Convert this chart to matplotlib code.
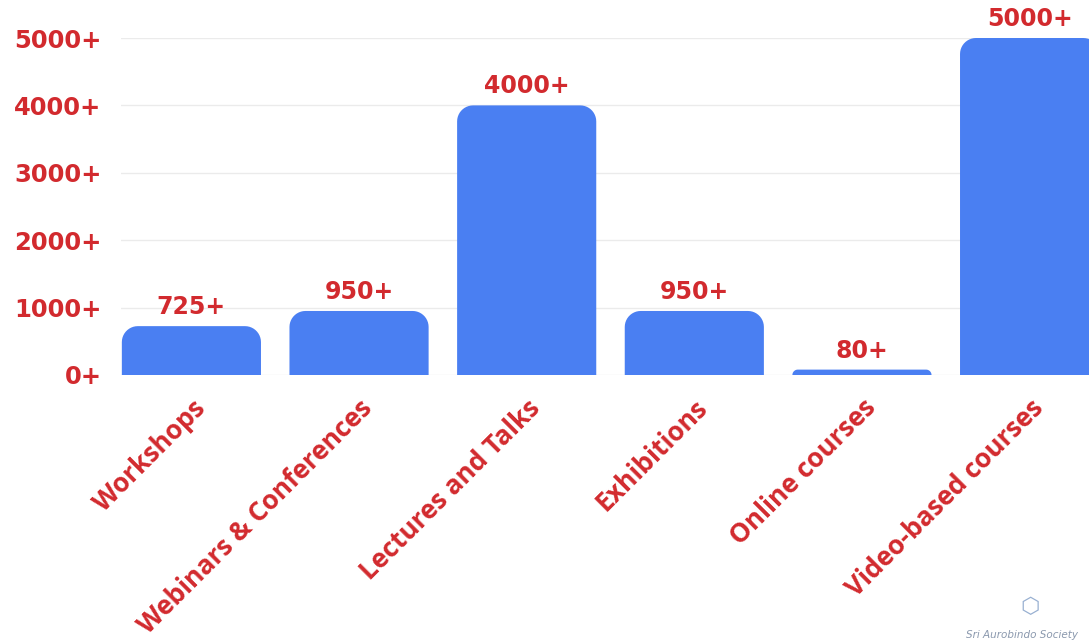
import numpy as np
import matplotlib.pyplot as plt
from matplotlib.patches import Polygon

categories = ["Workshops", "Webinars & Conferences", "Lectures and Talks",
              "Exhibitions", "Online courses", "Video-based courses"]
values = [725, 950, 4000, 950, 80, 5000]
value_labels = ["725+", "950+", "4000+", "950+", "80+", "5000+"]
yticks = [0, 1000, 2000, 3000, 4000, 5000]
ytick_labels = ["0+", "1000+", "2000+", "3000+", "4000+", "5000+"]

RED = "#d22a2e"
BLUE = "#4a7ff2"

W, H = 1089, 644
fig = plt.figure(figsize=(W / 100, H / 100), dpi=100)
# axes runs a little past the right edge, like the source image (last bar is cut)
x0, x1 = 121, 1100
y0, y1 = 375, 38
ax = fig.add_axes([x0 / W, 1 - y0 / H, (x1 - x0) / W, (y0 - y1) / H])
ax.set_xlim(-0.42, 5.42)
ax.set_ylim(0, 5000)

width = 0.83
# data units per pixel, so the rounded corners come out circular
xpp = 5.84 / (x1 - x0)
ypp = 5000 / (y0 - y1)
r_px = 16


def rounded_top(xc, h):
    r = min(r_px, h / ypp)
    rx, ry = r * xpp, r * ypp
    left, right = xc - width / 2, xc + width / 2
    t = np.linspace(0, np.pi / 2, 12)
    pts = [(left, 0)]
    pts += [(left + rx - rx * np.cos(a), h - ry + ry * np.sin(a)) for a in t]
    pts += [(right - rx + rx * np.sin(a), h - ry + ry * np.cos(a)) for a in t]
    pts += [(right, 0)]
    return pts


for i, v in enumerate(values):
    ax.add_patch(Polygon(rounded_top(i, v), closed=True, facecolor=BLUE,
                         edgecolor="none", zorder=3))
    ax.text(i, v + 19 * ypp, value_labels[i], ha="center", va="center",
            color=RED, fontsize=17, fontweight="bold", clip_on=False,
            family="DejaVu Sans")

ax.set_yticks(yticks)
ax.set_yticklabels(ytick_labels)
ax.set_xticks(range(len(categories)))
ax.set_xticklabels(categories, rotation=45, ha="right", rotation_mode="anchor",
                   fontsize=19, fontweight="bold", color=RED, family="Open Sans")
for t in ax.get_yticklabels():
    t.set_color(RED)
    t.set_fontweight("bold")
    t.set_fontsize(17.5)
    t.set_family("DejaVu Sans")
ax.tick_params(axis="both", length=0)
ax.tick_params(axis="y", pad=14)
ax.tick_params(axis="x", pad=14)
ax.grid(axis="y", color="#ebebeb", linewidth=1, zorder=0)
for s in ax.spines.values():
    s.set_visible(False)

fig.text(966 / W, 1 - 635 / H, "Sri Aurobindo Society", fontsize=7.5,
         style="italic", color="#6d7f99", ha="left", va="center", alpha=0.8)
fig.text(1030 / W, 1 - 607 / H, "\u2b21", fontsize=16, color="#7e9cc6",
         ha="center", va="center", alpha=0.8)

fig.savefig("out.png", dpi=100)
